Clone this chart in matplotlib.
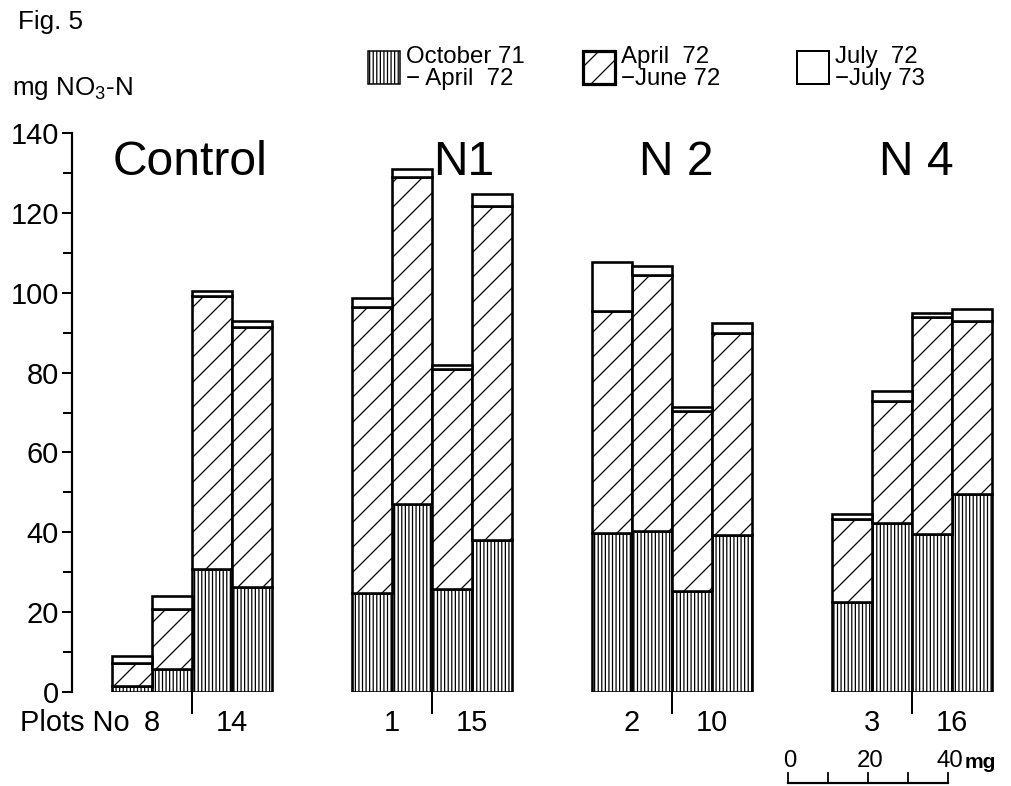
import matplotlib
matplotlib.use('Agg')
import matplotlib.pyplot as plt
from matplotlib.patches import Rectangle
from matplotlib.lines import Line2D

DPI = 150
W, H = 1011, 786
plt.rcParams['font.family'] = ['Liberation Sans', 'DejaVu Sans']
plt.rcParams['mathtext.default'] = 'regular'
plt.rcParams['hatch.linewidth'] = 0.6
plt.rcParams['hatch.color'] = 'black'

# ---------------- data ----------------
groups = ['Control', 'N1', 'N 2', 'N 4']
plot_numbers = ['8', '14', '1', '15', '2', '10', '3', '16']
period_labels = ['October 71\n\u2212 April  72', 'April  72\n\u2212June 72', 'July  72\n\u2212July 73']
# mg NO3-N per bar (two bars per plot, four bars per treatment)
oct71_apr72 = [1.5, 5.7, 30.9, 26.3, 24.8, 47.2, 25.9, 38.0,
               39.7, 40.3, 25.3, 39.2, 22.5, 42.3, 39.5, 49.5]
apr72_jun72 = [5.8, 15.0, 68.4, 65.2, 71.5, 81.9, 54.9, 83.6,
               55.7, 64.1, 45.0, 50.8, 20.8, 30.5, 54.3, 43.5]
jul72_jul73 = [1.7, 3.3, 1.2, 1.3, 2.4, 1.8, 1.2, 3.0,
               12.4, 2.3, 1.2, 2.3, 1.2, 2.7, 1.2, 3.0]
y_ticks = [0, 20, 40, 60, 80, 100, 120, 140]

# ---------------- figure ----------------
fig = plt.figure(figsize=(W / DPI, H / DPI), dpi=DPI)

def fx(px):
    return px / W

def fy(py):
    return 1 - py / H

def pt(px):
    return px * 72.0 / DPI

ax_left, ax_right, ax_top, ax_bot = 72, 1000, 133, 692
ax = fig.add_axes([fx(ax_left), fy(ax_bot), (ax_right - ax_left) / W, (ax_bot - ax_top) / H])
ax.set_xlim(-1.5, 21.7)
ax.set_ylim(0, 140)

xs = [6 * (i // 4) + (i % 4) for i in range(len(oct71_apr72))]
lw = pt(2.6)
ax.bar(xs, oct71_apr72, width=1.0, color='white', edgecolor='black', linewidth=lw,
       hatch='|||||||', zorder=2)
bottoms2 = [a for a in oct71_apr72]
ax.bar(xs, apr72_jun72, width=1.0, bottom=bottoms2, color='white', edgecolor='black',
       linewidth=lw, hatch='//', zorder=2)
bottoms3 = [a + b for a, b in zip(oct71_apr72, apr72_jun72)]
ax.bar(xs, jul72_jul73, width=1.0, bottom=bottoms3, color='white', edgecolor='black',
       linewidth=lw, zorder=2)

# axes styling
for s in ['top', 'right', 'bottom']:
    ax.spines[s].set_visible(False)
ax.spines['left'].set_linewidth(pt(2.2))
ax.set_yticks(y_ticks)
ax.set_yticks(range(10, 140, 20), minor=True)
ax.tick_params(axis='y', which='major', direction='out', length=pt(10), width=pt(2),
               labelsize=pt(29), pad=pt(3))
ax.tick_params(axis='y', which='minor', direction='out', length=pt(9), width=pt(2))
ax.set_xticks([])

# separators and plot numbers
title_x = [1.45, 8.3, 13.6, 19.6]
for g in range(4):
    sep = 6 * g + 1.5
    ax.plot([sep, sep], [0, -5.2], color='black', lw=pt(2), clip_on=False)
    for k in range(2):
        ax.text(6 * g + 0.5 + 2 * k, -7.8, plot_numbers[2 * g + k], ha='center', va='center',
                fontsize=pt(29))
    ax.text(title_x[g], 132.5, groups[g], ha='center', va='center', fontsize=pt(48))
fig.text(fx(20), fy(723), 'Plots No', ha='left', va='center', fontsize=pt(29))

# titles
fig.text(fx(18), fy(22), 'Fig. 5', ha='left', va='center', fontsize=pt(26))
fig.text(fx(12), fy(88), r'mg NO$_{3}$-N', ha='left', va='center', fontsize=pt(26))

# legend (manual)
leg_x = [368, 583, 797]
leg_hatch = ['|||||||', '//', '']
leg_lw = [pt(1.5), pt(3.2), pt(2.0)]
for i in range(3):
    r = Rectangle((fx(leg_x[i]), fy(84)), 32 / W, 33 / H, transform=fig.transFigure,
                  facecolor='white', edgecolor='black', linewidth=leg_lw[i], hatch=leg_hatch[i])
    fig.add_artist(r)
    fig.text(fx(leg_x[i] + 38), fy(68), period_labels[i], ha='left', va='center',
             fontsize=pt(24), linespacing=0.98)

# scale bar (40 mg = 40 y-units)
px_per_unit = (ax_bot - ax_top) / 140.0
x0 = 788
bar_y = 783
for v in [0, 10, 20, 30, 40]:
    xp = x0 + v * px_per_unit
    fig.add_artist(Line2D([fx(xp), fx(xp)], [fy(bar_y), fy(bar_y - 10)], color='black',
                          lw=pt(1.8), transform=fig.transFigure))
fig.add_artist(Line2D([fx(x0), fx(x0 + 40 * px_per_unit)], [fy(bar_y), fy(bar_y)],
                      color='black', lw=pt(2.2), transform=fig.transFigure))
for v in [0, 20, 40]:
    fig.text(fx(x0 + v * px_per_unit + 2), fy(761), str(v), ha='center', va='center',
             fontsize=pt(24))
fig.text(fx(x0 + 40 * px_per_unit + 17), fy(762), 'mg', ha='left', va='center',
         fontsize=pt(21), fontweight='bold')

fig.savefig('out.png', dpi=DPI)
